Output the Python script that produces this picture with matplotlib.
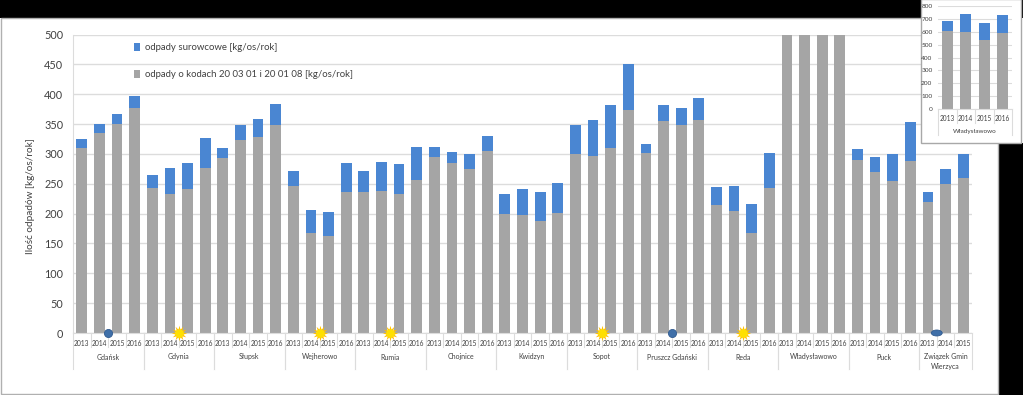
import numpy as np
import matplotlib
matplotlib.use("Agg")
import matplotlib.pyplot as plt
from matplotlib.patches import Rectangle, Ellipse
from matplotlib.transforms import blended_transform_factory

plt.rcParams['font.family'] = ['Lato', 'DejaVu Sans']

groups = ["Gdańsk", "Gdynia", "Słupsk", "Wejherowo", "Rumia", "Chojnice", "Kwidzyn", "Sopot",
          "Pruszcz Gdański", "Reda", "Władysławowo", "Puck", "Związek Gmin\nWierzyca"]
years = ["2013", "2014", "2015", "2016"]
mixed = [[310, 335, 350, 377], [243, 232, 241, 277], [293, 323, 329, 349], [246, 167, 162, 236],
         [237, 238, 232, 256], [294, 285, 275, 305], [199, 198, 188, 201], [299, 297, 310, 374],
         [302, 355, 348, 357], [214, 205, 168, 243], [605, 595, 535, 590], [290, 270, 254, 288],
         [220, 250, 260]]
total = [[325, 350, 366, 397], [265, 276, 285, 327], [310, 349, 358, 384], [271, 206, 202, 284],
         [272, 286, 283, 311], [312, 303, 299, 330], [232, 241, 237, 251], [348, 356, 382, 450],
         [317, 382, 377, 393], [244, 247, 216, 301], [680, 740, 665, 730], [309, 294, 300, 354],
         [236, 274, 299]]
inset_mixed = mixed[10]
inset_total = total[10]
sun_groups = ["Gdynia", "Wejherowo", "Rumia", "Sopot", "Reda"]
dot_groups = ["Gdańsk", "Pruszcz Gdański"]
ellipse_groups = ["Związek Gmin\nWierzyca"]

W, H = 1023, 395
BLUE, GRAY, GRID, TXT = "#4a86d2", "#a5a5a5", "#dcdcdc", "#404040"


def axes_px(fig, l, t, r, b, **kw):
    return fig.add_axes([l / W, 1 - b / H, (r - l) / W, (b - t) / H], **kw)


fig = plt.figure(figsize=(W / 100, H / 100), dpi=100, facecolor="white")


def frect(l, t, r, b, **kw):
    fig.add_artist(Rectangle((l / W, 1 - b / H), (r - l) / W, (b - t) / H,
                             transform=fig.transFigure, **kw))


frect(0, 0, W, 18, fc="black", ec="none")
frect(998, 143, W, H, fc="black", ec="none")
frect(1, 18, 998, 394, fc="none", ec="#b0b0b0", lw=1)

ax = axes_px(fig, 73, 34.5, 972, 333)
ax.set_zorder(2)
ax.patch.set_alpha(0)

labels, m, t = [], [], []
starts = {}
for g, mm, tt in zip(groups, mixed, total):
    starts[g] = len(m)
    m += mm
    t += tt
    labels += years[:len(mm)]
x = np.arange(len(m))
m, t = np.array(m), np.array(t)
ax.set_axisbelow(True)
ax.bar(x, t - m, bottom=m, width=0.61, color=BLUE, label="odpady surowcowe [kg/os/rok]")
ax.bar(x, m, width=0.61, color=GRAY, label="odpady o kodach 20 03 01 i 20 01 08 [kg/os/rok]")
ax.set_xlim(-0.5, len(x) - 0.5)
ax.set_ylim(0, 500)
ax.set_yticks(range(0, 501, 50))
ax.yaxis.grid(True, color=GRID, lw=1)
ax.tick_params(axis="y", length=0, labelsize=7.8, labelcolor=TXT, pad=7)
ax.set_xticks(x, labels)
ax.tick_params(axis="x", length=0, labelsize=4.8, labelcolor=TXT, pad=5)
for s in ax.spines.values():
    s.set_visible(False)
for side in ("bottom", "left"):
    ax.spines[side].set_visible(True)
    ax.spines[side].set_color(GRID)
ax.set_ylabel("Ilość odpadów [kg/os/rok]", fontsize=7.2, color=TXT)
ax.yaxis.set_label_coords(-0.042, 0.459)

tr = blended_transform_factory(ax.transData, ax.transAxes)
axh = 333 - 34.5
pos = 0
for g, mm in zip(groups, mixed):
    n = len(mm)
    for i in range(n + 1):
        depth = 36 if i in (0, n) else 14
        ax.plot([pos + i - 0.5] * 2, [0, -depth / axh], transform=tr, color=GRID, lw=0.8, clip_on=False)
    ax.text(pos + n / 2 - 0.5, -(24 if "\n" not in g else 28.5) / axh, g, transform=tr,
            ha="center", va="center", fontsize=5, color=TXT, linespacing=1.4)
    pos += n

for g in sun_groups:
    ax.scatter(starts[g] + 1.5, 0, marker=(12, 1, 0), s=125, color="#ffc000", zorder=5, clip_on=False, lw=0)
    ax.scatter(starts[g] + 1.5, 0, marker="o", s=38, color="#ffe000", zorder=6, clip_on=False, lw=0)
for g in dot_groups:
    ax.scatter(starts[g] + 1.5, 0, marker="o", s=34, color="#3f6fa8", edgecolor="#2f5a8f", lw=0.6, zorder=5, clip_on=False)
for g in ellipse_groups:
    ax.add_patch(Ellipse((starts[g] + 0.5, 0), 0.62, 10, fc="#3f6fa8", ec="#2f5a8f", lw=0.6, zorder=5, clip_on=False))

ax.legend(loc="upper left", bbox_to_anchor=(0.0675, 0.97), frameon=False, fontsize=6.9,
          labelcolor=TXT, handlelength=0.7, handleheight=0.8, handletextpad=0.45,
          labelspacing=1.85, borderpad=0, borderaxespad=0)

# inset
frect(921, -1, 1021, 143, fc="white", ec="#a8a8a8", lw=1, zorder=10)
ia = axes_px(fig, 938, 6, 1012, 109)
ia.set_zorder(12)
ia.patch.set_alpha(0)
ix = np.arange(4)
im, it = np.array(inset_mixed), np.array(inset_total)
ia.set_axisbelow(True)
ia.bar(ix, it - im, bottom=im, width=0.58, color=BLUE)
ia.bar(ix, im, width=0.58, color=GRAY)
ia.set_xlim(-0.5, 3.5)
ia.set_ylim(0, 800)
ia.set_yticks(range(0, 801, 100))
ia.yaxis.grid(True, color=GRID, lw=0.8)
ia.tick_params(axis="y", length=0, labelsize=4.6, labelcolor=TXT, pad=4)
ia.set_xticks(ix, years)
ia.tick_params(axis="x", length=0, labelsize=4.7, labelcolor=TXT, pad=4.5)
for s in ia.spines.values():
    s.set_visible(False)
ia.spines["bottom"].set_visible(True)
ia.spines["bottom"].set_color(GRID)
itr = blended_transform_factory(ia.transData, ia.transAxes)
for i in range(5):
    depth = 26 if i in (0, 4) else 14
    ia.plot([i - 0.5] * 2, [0, -depth / 103], transform=itr, color=GRID, lw=0.8, clip_on=False)
ia.text(1.5, -22 / 103, groups[10], transform=itr, ha="center", va="center", fontsize=4.6, color=TXT)

fig.savefig("out.png", dpi=100)
